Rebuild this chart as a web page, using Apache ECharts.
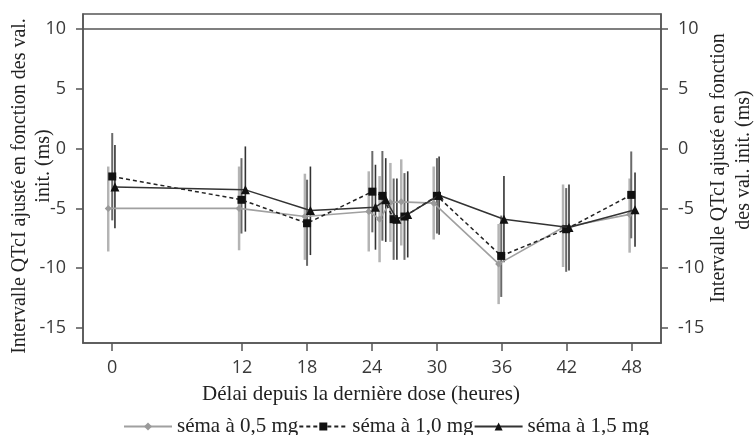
<!DOCTYPE html>
<html>
<head>
<meta charset="utf-8">
<script src="https://cdn.jsdelivr.net/npm/echarts@6/dist/echarts.min.js"></script>
<style>
  html, body { margin: 0; padding: 0; background: #fff; }
  #chart { width: 754px; height: 435px; }
</style>
</head>
<body>
<div id="chart"></div>
<script>
// tick labels
const xTicks = [0, 12, 18, 24, 30, 36, 42, 48]
const yTicks = [-15, -10, -5, 0, 5, 10]
const refLine = 10

// séma à 0,5 mg
const x05 = [-0.37, 11.72, 17.8, 23.7, 24.7, 25.7, 26.7, 29.7, 35.7, 41.65, 47.8]
const y05 = [-5.0, -5.0, -5.68, -5.26, -5.9, -4.5, -4.45, -4.56, -9.64, -6.6, -5.5]
const lo05 = [-8.6, -8.5, -9.3, -8.6, -9.5, -7.8, -8.1, -7.6, -13.0, -9.9, -8.7]
const hi05 = [-1.5, -1.5, -2.1, -1.9, -2.3, -1.2, -0.9, -1.5, -6.3, -3.0, -2.5]

// séma à 1,0 mg
const x10 = [0, 11.94, 18.0, 24.03, 24.96, 26.0, 27.0, 30.0, 35.94, 41.94, 47.95]
const y10 = [-2.33, -4.28, -6.24, -3.6, -3.95, -5.9, -5.68, -3.95, -8.97, -6.74, -3.87]
const lo10 = [-6.0, -7.1, -9.8, -7.0, -7.7, -9.3, -9.3, -7.1, -12.4, -10.3, -7.5]
const hi10 = [1.3, -0.8, -2.6, -0.2, -0.2, -2.5, -2.05, -0.8, -5.6, -3.3, -0.24]

// séma à 1,5 mg
const x15 = [0.25, 12.3, 18.31, 24.32, 25.27, 26.3, 27.3, 30.2, 36.19, 42.2, 48.3]
const y15 = [-3.22, -3.45, -5.18, -4.9, -4.28, -5.9, -5.5, -3.9, -5.9, -6.6, -5.12]
const lo15 = [-6.65, -6.94, -8.9, -8.45, -7.8, -9.3, -9.1, -7.2, -9.5, -10.2, -8.2]
const hi15 = [0.3, 0.18, -1.5, -1.35, -0.8, -2.5, -1.9, -0.66, -2.3, -3.0, -2.0]

const names = ['séma à 0,5 mg', 'séma à 1,0 mg', 'séma à 1,5 mg']

const axisColor = '#555'
const labelColor = '#3a3a3a'
const serif = '"Liberation Serif", "Times New Roman", serif'
const sans = '"Open Sans", "DejaVu Sans", sans-serif'

const pairs = (xs, ys) => xs.map((x, i) => [x, ys[i]])
const bars = (xs, lo, hi) => xs.map((x, i) => [x, lo[i], hi[i]])

function errorBars(data, color, width) {
  return {
    type: 'custom',
    silent: true,
    z: 1,
    data,
    encode: { x: 0, y: [1, 2] },
    renderItem: (params, api) => {
      const top = api.coord([api.value(0), api.value(2)])
      const bottom = api.coord([api.value(0), api.value(1)])
      return {
        type: 'line',
        shape: { x1: top[0], y1: top[1], x2: bottom[0], y2: bottom[1] },
        style: { stroke: color, lineWidth: width }
      }
    }
  }
}

function yAxis(position) {
  return {
    type: 'value',
    position,
    min: -16.25,
    max: 11.25,
    axisLine: { show: true, onZero: false, lineStyle: { color: axisColor, width: 1.5 } },
    axisTick: { show: true, customValues: yTicks, length: 7, lineStyle: { color: axisColor, width: 1.5 } },
    axisLabel: { customValues: yTicks, color: labelColor, fontFamily: sans, fontSize: 18, margin: 17 },
    splitLine: { show: false }
  }
}

const chart = echarts.init(document.getElementById('chart'))
chart.setOption({
  animation: false,
  grid: {
    left: 83, right: 93, top: 14, bottom: 92,
    show: true, borderColor: axisColor, borderWidth: 1.5
  },
  xAxis: {
    type: 'value',
    min: -2.7,
    max: 50.7,
    axisLine: { show: true, onZero: false, lineStyle: { color: axisColor, width: 1.5 } },
    axisTick: { show: true, customValues: xTicks, length: 8, lineStyle: { color: axisColor, width: 1.5 } },
    axisLabel: { customValues: xTicks, color: labelColor, fontFamily: sans, fontSize: 18, margin: 16 },
    splitLine: { show: false }
  },
  yAxis: [yAxis('left'), yAxis('right')],
  legend: {
    data: names,
    left: 118,
    top: 411,
    itemWidth: 48,
    itemHeight: 10,
    itemGap: 0,
    textStyle: { fontFamily: serif, fontSize: 21, color: '#222' }
  },
  graphic: [
    { type: 'text', x: 20, y: 186, rotation: Math.PI / 2,
      style: { text: 'Intervalle QTcI ajusté en fonction des val.', font: '20px ' + serif, fill: '#222', textAlign: 'center', textVerticalAlign: 'middle' } },
    { type: 'text', x: 44, y: 166, rotation: Math.PI / 2,
      style: { text: 'init. (ms)', font: '20px ' + serif, fill: '#222', textAlign: 'center', textVerticalAlign: 'middle' } },
    { type: 'text', x: 719, y: 168, rotation: Math.PI / 2,
      style: { text: 'Intervalle QTcI ajusté en fonction', font: '20px ' + serif, fill: '#222', textAlign: 'center', textVerticalAlign: 'middle' } },
    { type: 'text', x: 744, y: 160, rotation: Math.PI / 2,
      style: { text: 'des val. init. (ms)', font: '20px ' + serif, fill: '#222', textAlign: 'center', textVerticalAlign: 'middle' } },
    { type: 'text', x: 361, y: 394,
      style: { text: 'Délai depuis la dernière dose (heures)', font: '21px ' + serif, fill: '#222', textAlign: 'center', textVerticalAlign: 'middle' } }
  ],
  series: [
    errorBars(bars(x05, lo05, hi05), '#b4b4b4', 2.5),
    errorBars(bars(x10, lo10, hi10), '#6a6a6a', 2),
    errorBars(bars(x15, lo15, hi15), '#333333', 1.6),
    {
      name: names[0],
      type: 'line',
      z: 3,
      data: pairs(x05, y05),
      symbol: 'diamond',
      symbolSize: 7,
      itemStyle: { color: '#9a9a9a' },
      lineStyle: { color: '#a0a0a0', width: 1.6 },
      markLine: {
        silent: true,
        symbol: 'none',
        label: { show: false },
        lineStyle: { color: axisColor, width: 1.5, type: 'solid' },
        data: [{ yAxis: refLine }]
      }
    },
    {
      name: names[1],
      type: 'line',
      z: 4,
      data: pairs(x10, y10),
      symbol: 'rect',
      symbolSize: 8,
      itemStyle: { color: '#111' },
      lineStyle: { color: '#222', width: 1.5, type: [4, 3] }
    },
    {
      name: names[2],
      type: 'line',
      z: 5,
      data: pairs(x15, y15),
      symbol: 'triangle',
      symbolSize: 9,
      itemStyle: { color: '#111' },
      lineStyle: { color: '#333', width: 1.5 }
    }
  ]
})
</script>
</body>
</html>
